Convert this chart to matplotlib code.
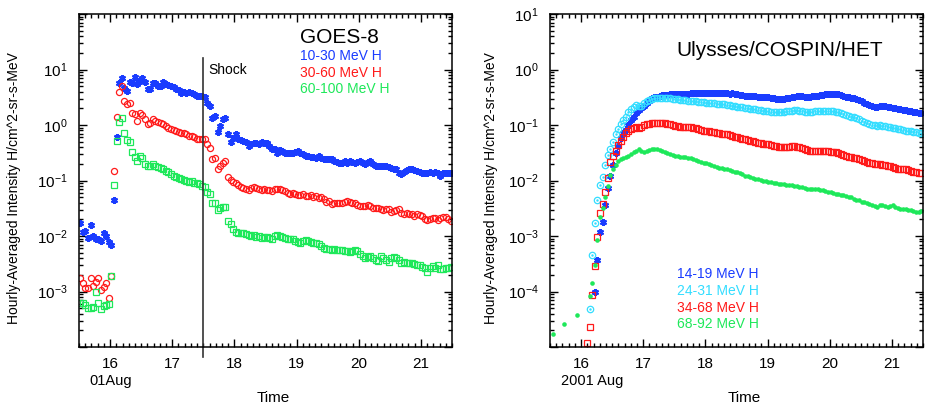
import numpy as np
import matplotlib
matplotlib.use('Agg')
import matplotlib.pyplot as plt
from matplotlib.ticker import FixedLocator, FixedFormatter, LogLocator, NullFormatter, MultipleLocator

plt.rcParams['font.family'] = ['Liberation Sans', 'DejaVu Sans']
plt.rcParams['mathtext.fontset'] = 'custom'
plt.rcParams['mathtext.rm'] = 'Liberation Sans'

nan = np.nan

# GOES-8, log10 of hourly intensity, hours from 2001-08-15 12 UT
goes_10_30 = [-1.76, -1.92, -1.91, -2.04, -1.81, -2.00, -2.06, -2.06, -2.09, -1.95, -2.00, -2.11, -2.17,
              -1.36, -0.21,
              0.76, 0.85, 0.67, 0.61, 0.77, 0.76, 0.87, 0.74, 0.79, 0.84, 0.78, 0.65, 0.65, 0.76, 0.76, 0.71,
              0.70, 0.77, 0.73, 0.72, 0.70, 0.68, 0.65, 0.63, 0.58, 0.59, 0.58, 0.59, 0.58, 0.56, 0.53, 0.53,
              0.53, 0.51,
              0.40, 0.35, 0.13, 0.16, -0.12, -0.02, 0.11, 0.13, -0.17, -0.31, -0.23, -0.17, -0.26, -0.27, -0.29,
              -0.31, -0.38, -0.35, -0.32, -0.32, -0.35, -0.31, -0.32, -0.32, -0.37, -0.43, -0.44, -0.50, -0.45,
              -0.47, -0.50, -0.51, -0.51, -0.50, -0.49, -0.47, -0.51, -0.53, -0.56, -0.56, -0.57, -0.57, -0.59,
              -0.56, -0.59, -0.62, -0.61, -0.61,
              -0.62, -0.64, -0.66, -0.68, -0.68, -0.65, -0.68, -0.65, -0.67, -0.68, -0.67, -0.65, -0.68, -0.70,
              -0.67, -0.65, -0.70, -0.73, -0.73, -0.73, -0.74, -0.74, -0.76, -0.78, -0.79, -0.80, -0.86, -0.88,
              -0.85, -0.81, -0.79, -0.79, -0.81, -0.83, -0.85, -0.86, -0.86, -0.87, -0.85, -0.86, -0.84, -0.87,
              -0.92, -0.86, -0.86, -0.87, -0.87]
goes_30_60 = [-2.75, -2.84, -2.93, -2.94, -2.76, -2.90, -2.82, -2.76, -2.97, -2.91, -2.84, -3.12, -2.72,
              -0.83, 0.15,
              0.60, 0.71, 0.43, 0.37, 0.39, 0.22, 0.19, 0.08, 0.22, 0.18, 0.11, 0.02, 0.04, 0.10, 0.08, 0.05,
              0.04, 0.01, -0.02, -0.05, -0.07, -0.09, -0.11, -0.13, -0.14, -0.15, -0.17, -0.19, -0.20, -0.22,
              -0.25, -0.26, -0.25, -0.26,
              -0.35, -0.41, -0.62, -0.59, -0.80, -0.74, -0.68, -0.65, -0.93, -0.99, -1.03, -1.05, -1.09, -1.11,
              -1.13, -1.15, -1.17, -1.13, -1.11, -1.13, -1.15, -1.17, -1.16, -1.17, -1.17, -1.19, -1.15, -1.16,
              -1.15, -1.17, -1.19, -1.22, -1.25, -1.23, -1.25, -1.27, -1.27, -1.25, -1.28, -1.28, -1.27, -1.29,
              -1.28, -1.31, -1.29, -1.34, -1.39, -1.37,
              -1.43, -1.41, -1.40, -1.40, -1.41, -1.39, -1.37, -1.39, -1.40, -1.41, -1.44, -1.46, -1.46, -1.46,
              -1.45, -1.46, -1.50, -1.50, -1.49, -1.52, -1.54, -1.52, -1.51, -1.57, -1.55, -1.53, -1.52, -1.59,
              -1.61, -1.58, -1.60, -1.61, -1.64, -1.61, -1.62, -1.64, -1.70, -1.71, -1.70, -1.68, -1.67, -1.71,
              -1.67, -1.65, -1.65, -1.69, -1.73]
goes_60_100 = [-3.21, -3.21, -3.24, -3.29, -3.29, -3.28, -3.00, -3.20, -3.32, -3.26, -3.24, -3.23, -2.72,
               -1.08, -0.29,
               0.06, 0.12, -0.14, -0.27, -0.31, -0.49, -0.57, -0.64, -0.55, -0.60, -0.70, -0.74, -0.73, -0.71,
               -0.73, -0.75, -0.77, -0.80, -0.83, -0.85, -0.89, -0.91, -0.93, -0.95, -0.97, -0.99, -1.01, -1.03,
               -1.01, -1.04, -1.05, -1.07, -1.10, -1.12,
               -1.21, -1.25, -1.41, -1.40, -1.53, -1.49, -1.47, -1.47, -1.73, -1.79, -1.87, -1.93, -1.94, -1.94,
               -1.95, -1.97, -1.99, -2.00, -1.99, -2.01, -2.00, -2.03, -2.01, -2.01, -2.03, -2.06, -2.00, -1.99,
               -2.00, -2.01, -2.03, -2.05, -2.06, -2.06, -2.09, -2.11, -2.13, -2.09, -2.07, -2.09, -2.11, -2.13,
               -2.12, -2.15, -2.18, -2.21, -2.24, -2.23,
               -2.25, -2.24, -2.26, -2.26, -2.25, -2.27, -2.27, -2.28, -2.27, -2.25, -2.27, -2.32, -2.36, -2.40,
               -2.37, -2.36, -2.39, -2.43, -2.45, -2.36, -2.39, -2.44, -2.47, -2.39, -2.37, -2.39, -2.43, -2.49,
               -2.47, -2.48, -2.48, -2.48, -2.50, -2.52, -2.53, -2.55, -2.57, -2.64, -2.57, -2.54, -2.57, -2.53,
               -2.59, -2.59, -2.57, -2.58, -2.56]

# Ulysses/COSPIN/HET, log10 of hourly intensity
uly_14_19 = [nan] * 17 + [
    -4.00, -3.44, -2.93, -2.75, -2.44, -2.14, -1.91, -1.72, -1.51, -1.37, -1.24, -1.15, -1.09, -1.00, -0.91,
    -0.85, -0.78, -0.73, -0.70, -0.66, -0.61, -0.56, -0.52, -0.50, -0.49, -0.47, -0.46, -0.46, -0.46, -0.45,
    -0.45, -0.45,
    -0.45, -0.45, -0.44, -0.44, -0.44, -0.43, -0.43, -0.43, -0.42, -0.42, -0.43, -0.42, -0.42, -0.42, -0.43,
    -0.42, -0.42, -0.43, -0.43, -0.43, -0.44, -0.43, -0.44, -0.45, -0.46, -0.46, -0.47, -0.47, -0.47, -0.48,
    -0.48, -0.49, -0.49, -0.50, -0.50, -0.50, -0.51, -0.52, -0.53, -0.53, -0.53, -0.53, -0.52, -0.51, -0.50,
    -0.49, -0.48, -0.48,
    -0.48, -0.49, -0.49, -0.49, -0.48, -0.47, -0.47, -0.46, -0.46, -0.45, -0.44, -0.44, -0.44, -0.44, -0.45,
    -0.46, -0.47, -0.49, -0.50, -0.51, -0.52, -0.53, -0.55, -0.57, -0.60, -0.62, -0.64, -0.66, -0.67, -0.67,
    -0.66, -0.66, -0.66, -0.67, -0.68, -0.69, -0.70, -0.71, -0.72, -0.73, -0.73, -0.74, -0.75, -0.76, -0.77,
    -0.78, -0.79]
uly_24_31 = [nan] * 15 + [
    -4.31, -3.35, -2.77, -2.36, -2.08, -1.94, -1.72, -1.54, -1.43, -1.30, -1.16, -1.07, -0.98, -0.91, -0.85,
    -0.77, -0.71, -0.67, -0.64, -0.65, -0.65, -0.60, -0.56, -0.55, -0.54, -0.52, -0.52, -0.51, -0.51, -0.52,
    -0.52, -0.52, -0.54, -0.54,
    -0.54, -0.55, -0.55, -0.55, -0.56, -0.56, -0.57, -0.57, -0.58, -0.59, -0.59, -0.60, -0.60, -0.61, -0.61,
    -0.62, -0.62, -0.62, -0.63, -0.64, -0.64, -0.65, -0.66, -0.67, -0.68, -0.68, -0.69, -0.70, -0.71, -0.72,
    -0.72, -0.73, -0.73, -0.74, -0.74, -0.75, -0.76, -0.77, -0.77, -0.77, -0.76, -0.76, -0.75, -0.74, -0.74,
    -0.73, -0.73, -0.74,
    -0.75, -0.76, -0.77, -0.77, -0.76, -0.75, -0.75, -0.74, -0.74, -0.74, -0.74, -0.74, -0.75, -0.76, -0.77,
    -0.79, -0.80, -0.82, -0.83, -0.85, -0.86, -0.88, -0.90, -0.92, -0.95, -0.97, -0.99, -1.00, -1.00, -1.01,
    -1.00, -1.01, -1.02, -1.03, -1.04, -1.05, -1.06, -1.07, -1.08, -1.09, -1.10, -1.11, -1.11, -1.12, -1.13,
    -1.14, -1.15]
uly_34_68 = [nan] * 14 + [
    -4.93, -4.64, -4.06, -3.54, -3.02, -2.59, -2.42, -2.20, -1.96, -1.67, -1.56, -1.47, -1.36, -1.28, -1.21,
    -1.15, -1.10, -1.07, -1.05, -1.04, -1.05, -1.03, -1.00, -0.99, -0.98, -0.97, -0.97, -0.96, -0.96, -0.97,
    -0.97, -0.98, -0.99, -1.00, -1.02,
    -1.02, -1.03, -1.03, -1.03, -1.04, -1.04, -1.05, -1.06, -1.08, -1.09, -1.10, -1.11, -1.11, -1.12, -1.13,
    -1.14, -1.15, -1.16, -1.17, -1.17, -1.18, -1.19, -1.21, -1.22, -1.24, -1.25, -1.26, -1.27, -1.28, -1.29,
    -1.31, -1.32, -1.33, -1.34, -1.35, -1.35, -1.36, -1.37, -1.38, -1.39, -1.39, -1.39, -1.39, -1.39, -1.38,
    -1.38, -1.39, -1.40,
    -1.42, -1.43, -1.45, -1.46, -1.46, -1.46, -1.46, -1.46, -1.46, -1.47, -1.47, -1.48, -1.48, -1.49, -1.51,
    -1.53, -1.54, -1.56, -1.57, -1.58, -1.59, -1.60, -1.62, -1.63, -1.65, -1.67, -1.68, -1.69, -1.70, -1.70,
    -1.71, -1.72, -1.72, -1.73, -1.74, -1.76, -1.77, -1.79, -1.79, -1.80, -1.80, -1.81, -1.82, -1.84, -1.85,
    -1.86, -1.87]
uly_68_92 = [nan, -4.76, nan, nan, nan, -4.59, nan, nan, nan, nan, -4.43, nan, nan, nan, nan,
    -4.08, -3.84, -3.53, -3.08, -2.66, -2.49, -2.30, -2.10, -1.90, -1.80, -1.72, -1.64, -1.61, -1.59, -1.57,
    -1.55, -1.52, -1.49, -1.46, -1.43, -1.47, -1.49, -1.47, -1.45, -1.43, -1.43, -1.44, -1.45, -1.47, -1.49,
    -1.50, -1.52, -1.54, -1.55,
    -1.56, -1.57, -1.58, -1.58, -1.59, -1.60, -1.62, -1.63, -1.65, -1.67, -1.68, -1.69, -1.71, -1.72, -1.74,
    -1.75, -1.77, -1.78, -1.79, -1.80, -1.81, -1.82, -1.84, -1.85, -1.87, -1.89, -1.91, -1.92, -1.94, -1.95,
    -1.97, -1.98, -1.99, -2.00, -2.01, -2.02, -2.03, -2.04, -2.05, -2.06, -2.07, -2.07, -2.08, -2.09, -2.09,
    -2.10, -2.10, -2.11,
    -2.12, -2.13, -2.15, -2.16, -2.16, -2.16, -2.16, -2.17, -2.18, -2.19, -2.20, -2.21, -2.23, -2.24, -2.25,
    -2.26, -2.27, -2.28, -2.29, -2.30, -2.33, -2.35, -2.36, -2.38, -2.39, -2.41, -2.43, -2.44, -2.46, -2.47,
    -2.44, -2.45, -2.46, -2.47, -2.46, -2.45, -2.48, -2.50, -2.51, -2.51, -2.52, -2.53, -2.54, -2.55, -2.56,
    -2.57, -2.55]

goes_labels = ['10-30 MeV H', '30-60 MeV H', '60-100 MeV H']
uly_labels = ['14-19 MeV H', '24-31 MeV H', '34-68 MeV H', '68-92 MeV H']

BLUE = '#1a3cff'
RED = '#ff1a1a'
GREEN = '#1ee85a'
CYAN = '#33ddff'

W, H = 927, 407
fig = plt.figure(figsize=(W / 100, H / 100), dpi=100)


def fx(px):
    return px / W


def fy(py):
    return 1 - py / H


ax1 = fig.add_axes([fx(79), fy(347), fx(373), 333 / H])
ax2 = fig.add_axes([fx(550), fy(347), fx(373), 333 / H])


def style(ax, ymin_exp, ymax_exp, labelled):
    ax.set_yscale('log')
    ax.set_xlim(15.5, 21.5)
    ax.set_ylim(10.0 ** ymin_exp, 10.0 ** ymax_exp)
    exps = list(range(ymin_exp, ymax_exp + 1))
    ax.yaxis.set_major_locator(FixedLocator([10.0 ** e for e in exps]))
    ax.yaxis.set_major_formatter(FixedFormatter(
        [r'$\mathregular{10^{%d}}$' % e if e in labelled else '' for e in exps]))
    ax.yaxis.set_minor_locator(LogLocator(base=10, subs=np.arange(2, 10), numticks=20))
    ax.yaxis.set_minor_formatter(NullFormatter())
    ax.xaxis.set_major_locator(FixedLocator([16, 17, 18, 19, 20, 21]))
    ax.xaxis.set_major_formatter(FixedFormatter(['16', '17', '18', '19', '20', '21']))
    ax.xaxis.set_minor_locator(MultipleLocator(0.1))
    ax.tick_params(which='both', direction='in', top=True, right=True, width=1.0, colors='black')
    ax.tick_params(which='major', length=6, labelsize=11)
    ax.tick_params(axis='x', which='major', pad=7)
    ax.tick_params(axis='y', which='major', pad=8)
    ax.tick_params(which='minor', length=3)
    for s in ax.spines.values():
        s.set_linewidth(1.1)


# left panel: GOES-8
t_goes = 15.5 + (np.arange(len(goes_10_30)) + 0.5) / 24
ax1.plot(t_goes, 10 ** np.array(goes_10_30), ls='none', marker=(6, 2, 0), ms=5, mew=1.5, color=BLUE)
t_goes = 15.5 + (np.arange(len(goes_30_60)) + 0.5) / 24
ax1.plot(t_goes, 10 ** np.array(goes_30_60), ls='none', marker='o', ms=4.4, mew=0.9, mfc='none', color=RED)
t_goes = 15.5 + (np.arange(len(goes_60_100)) + 0.5) / 24
ax1.plot(t_goes, 10 ** np.array(goes_60_100), ls='none', marker='s', ms=3.9, mew=0.9, mfc='none', color=GREEN)
style(ax1, -4, 2, [-3, -2, -1, 0, 1])
ax1.axvline(17.5, ymin=-0.03, ymax=0.868, color='#333333', lw=1.2, clip_on=False)

# right panel: Ulysses
t_uly = 15.5 + (np.arange(len(uly_14_19)) + 0.3) / 24
ax2.plot(t_uly, 10 ** np.array(uly_14_19), ls='none', marker=(6, 2, 0), ms=5, mew=1.5, color=BLUE)
t_uly = 15.5 + (np.arange(len(uly_24_31)) + 0.3) / 24
ax2.plot(t_uly, 10 ** np.array(uly_24_31), ls='none', marker='o', ms=4.6, mew=0.9, mfc='none', color=CYAN)
ax2.plot(t_uly, 10 ** np.array(uly_24_31), ls='none', marker='.', ms=1.5, color=CYAN)
t_uly = 15.5 + (np.arange(len(uly_34_68)) + 0.3) / 24
ax2.plot(t_uly, 10 ** np.array(uly_34_68), ls='none', marker='s', ms=3.9, mew=0.9, mfc='none', color=RED)
t_uly = 15.5 + (np.arange(len(uly_68_92)) + 0.3) / 24
ax2.plot(t_uly, 10 ** np.array(uly_68_92), ls='none', marker='o', ms=3.3, mew=0, color=GREEN)
style(ax2, -5, 1, [-4, -3, -2, -1, 0, 1])

# texts
ylab = 'Hourly-Averaged Intensity H/cm^2-sr-s-MeV'
fig.text(fx(14), fy(188.5), ylab, rotation=90, ha='center', va='center', fontsize=10)
fig.text(fx(491), fy(188.5), ylab, rotation=90, ha='center', va='center', fontsize=10)
fig.text(fx(273.3), fy(401.7), 'Time', ha='center', va='baseline', fontsize=11)
fig.text(fx(744), fy(401.7), 'Time', ha='center', va='baseline', fontsize=11)
fig.text(fx(111), fy(385), '01Aug', ha='center', va='baseline', fontsize=10.5)
fig.text(fx(591.7), fy(385), '2001 Aug', ha='center', va='baseline', fontsize=10.5)
fig.text(fx(208), fy(74), 'Shock', ha='left', va='baseline', fontsize=10)

fig.text(fx(300), fy(42.7), 'GOES-8', ha='left', va='baseline', fontsize=15)
for lab, col, yb in zip(goes_labels, [BLUE, RED, GREEN], [60.3, 77, 93]):
    fig.text(fx(300), fy(yb), lab, color=col, ha='left', va='baseline', fontsize=10)

fig.text(fx(676.7), fy(56), 'Ulysses/COSPIN/HET', ha='left', va='baseline', fontsize=15)
for lab, col, yb in zip(uly_labels, [BLUE, CYAN, RED, GREEN], [278.3, 295, 311.7, 328.3]):
    fig.text(fx(676.7), fy(yb), lab, color=col, ha='left', va='baseline', fontsize=10)

fig.savefig('out.png', dpi=100)
